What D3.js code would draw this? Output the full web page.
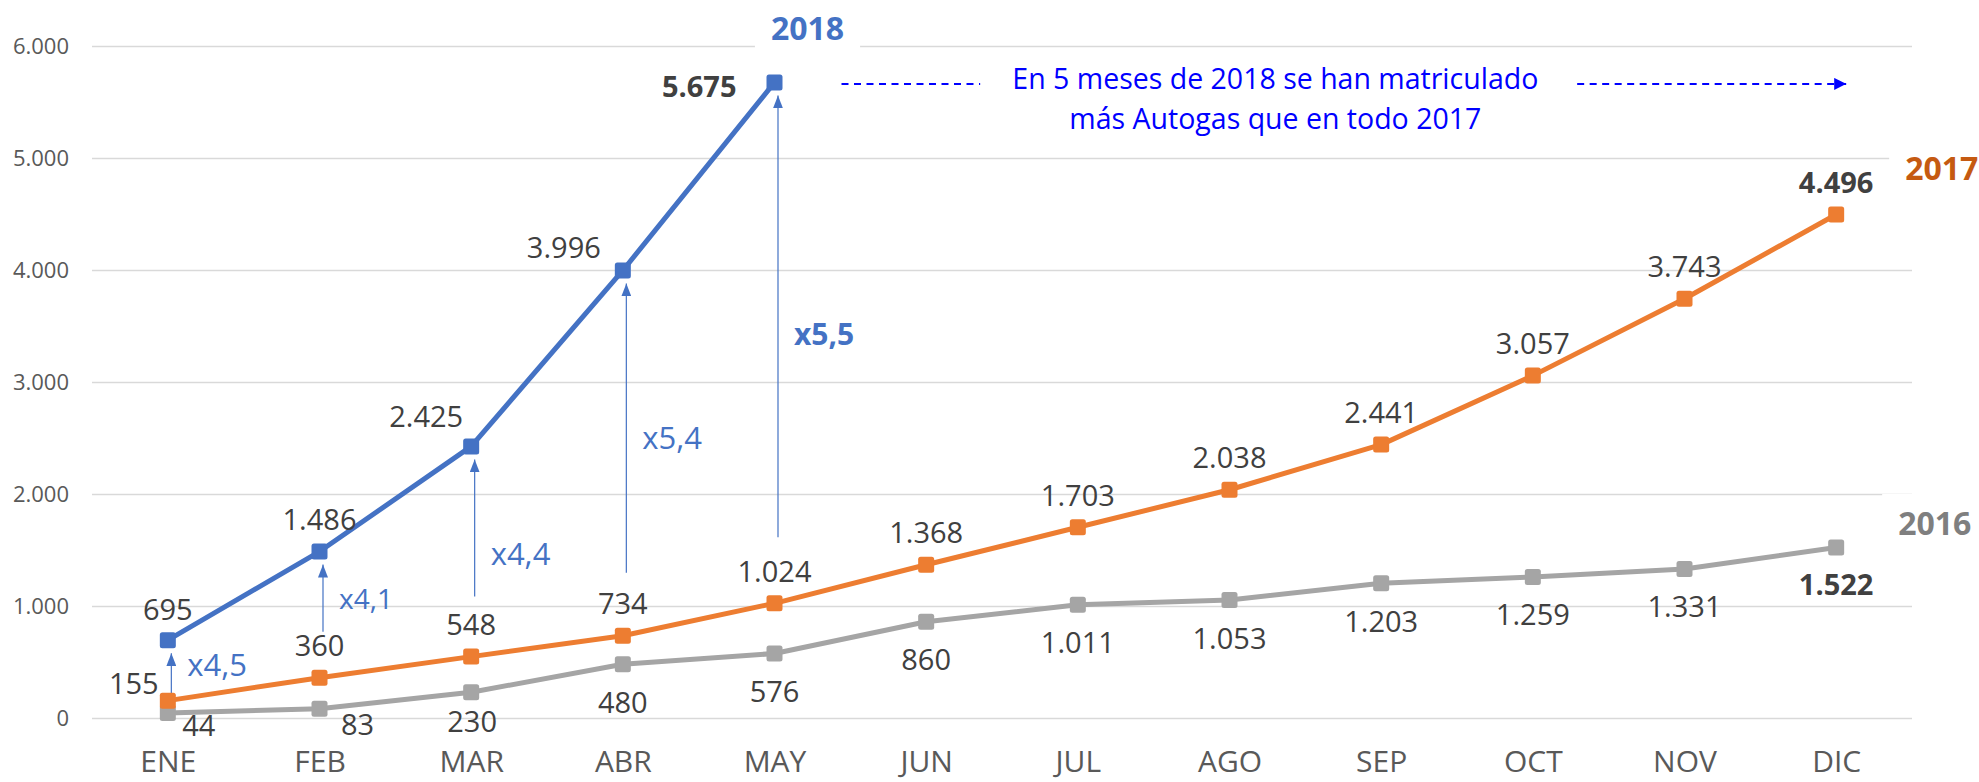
<!DOCTYPE html>
<html>
<head>
<meta charset="utf-8">
<script src="https://cdn.jsdelivr.net/npm/d3@7"></script>
<style>
  html, body { margin: 0; padding: 0; background: #ffffff; }
  svg { display: block; font-family: "Open Sans", "Noto Sans", sans-serif; }
</style>
</head>
<body>
<div id="chart"></div>
<script>
// ---------------- DATA ----------------
const months = ["ENE","FEB","MAR","ABR","MAY","JUN","JUL","AGO","SEP","OCT","NOV","DIC"];
const values2018 = [695, 1486, 2425, 3996, 5675];
const values2017 = [155, 360, 548, 734, 1024, 1368, 1703, 2038, 2441, 3057, 3743, 4496];
const values2016 = [44, 83, 230, 480, 576, 860, 1011, 1053, 1203, 1259, 1331, 1522];
const yTicks = [0, 1000, 2000, 3000, 4000, 5000, 6000];
const multiplierLabels = ["x4,5", "x4,1", "x4,4", "x5,4", "x5,5"];
const seriesNames = ["2018", "2017", "2016"];
const noteLines = ["En 5 meses de 2018 se han matriculado", "más Autogas que en todo 2017"];

// ---------------- STYLE / LAYOUT ----------------
const W = 1979, H = 782;
const colors = { "2018": "#4472C4", "2017": "#ED7D31", "2016": "#A5A5A5" };
const nameColors = { "2018": "#4472C4", "2017": "#C55A11", "2016": "#7F7F7F" };
const labelColor = "#404040";
const axisColor = "#595959";

// label placement (dx, dy, bold, anchor) per point
const place2018 = [
  {dx: 0, dy: -32}, {dx: 0, dy: -33}, {dx: -45, dy: -31}, {dx: -59, dy: -24},
  {dx: -38, dy: 3, bold: true, anchor: "end"}
];
const place2017 = values2017.map((v, i) => i === 0 ? {dx: -34, dy: -18}
  : (i === 11 ? {dx: 0, dy: -33, bold: true} : {dx: 0, dy: -33}));
const place2016 = values2016.map((v, i) => i === 0 ? {dx: 31, dy: 11}
  : (i === 1 ? {dx: 38, dy: 15} : (i === 2 ? {dx: 1, dy: 28}
  : (i === 11 ? {dx: 0, dy: 36, bold: true} : {dx: 0, dy: 37}))));
const arrowBottomGap = [0, 46, 60, 63, 66];
const arrowLabelShift = [-13, 0, 25, 9, 17];
const arrowLabelSize = [31, 28, 31, 31, 30];

const fmt = v => d3.format(",")(v).replace(/,/g, ".");

const svg = d3.select("#chart").append("svg").attr("width", W).attr("height", H);
const defs = svg.append("defs");
defs.append("marker").attr("id", "arrUp").attr("viewBox", "0 0 13 10")
  .attr("refX", 13).attr("refY", 5).attr("markerWidth", 13).attr("markerHeight", 10)
  .attr("markerUnits", "userSpaceOnUse").attr("orient", "auto")
  .append("path").attr("d", "M0,0 L13,5 L0,10 Z").attr("fill", colors["2018"]);
defs.append("marker").attr("id", "arrRight").attr("viewBox", "0 0 12 12")
  .attr("refX", 12).attr("refY", 6).attr("markerWidth", 12).attr("markerHeight", 12)
  .attr("markerUnits", "userSpaceOnUse").attr("orient", "auto")
  .append("path").attr("d", "M0,0 L12,6 L0,12 Z").attr("fill", "#0000FF");

const x = d3.scalePoint().domain(months).range([92, 1912]).padding(0.5);
const y = d3.scaleLinear().domain([0, 6000]).range([718, 46]);

// gridlines + y tick labels via axis
const yAxis = d3.axisLeft(y).tickValues(yTicks).tickSize(-(1912 - 92)).tickFormat(fmt).tickPadding(23);
const gy = svg.append("g").attr("transform", "translate(92,0)").call(yAxis);
gy.select(".domain").remove();
gy.selectAll(".tick line").attr("stroke", "#D9D9D9").attr("stroke-width", 1.3);
gy.selectAll(".tick text").attr("fill", axisColor).attr("font-size", 22)
  .attr("font-family", "'Open Sans', sans-serif");

// x axis labels
const xAxis = d3.axisBottom(x).tickSize(0).tickPadding(34);
const gx = svg.append("g").attr("transform", "translate(0,718)").call(xAxis);
gx.select(".domain").remove();
gx.selectAll(".tick text").attr("fill", axisColor).attr("font-size", 30)
  .attr("font-family", "'Open Sans', sans-serif").attr("dy", "0.35em").attr("y", 43.5);

// series-name labels with white boxes (they interrupt gridlines)
const boxG = svg.append("g");
const nameG = svg.append("g");
const nameSpecs = [
  {name: "2018", x: x("MAY") + 33, y: 27, anchor: "middle"},
  {name: "2017", x: x("DIC") + 69, y: 167, anchor: "start"},
  {name: "2016", x: x("DIC") + 62, y: 522, anchor: "start"}
];
nameSpecs.forEach(s => {
  const t = nameG.append("text").attr("x", s.x).attr("y", s.y)
    .attr("text-anchor", s.anchor).attr("dominant-baseline", "central")
    .attr("font-size", 32).attr("font-weight", 700).attr("fill", nameColors[s.name]).text(s.name);
  const bb = t.node().getBBox();
  boxG.append("rect").attr("x", bb.x - 16).attr("y", s.y - 28)
    .attr("width", bb.width + 32).attr("height", 56).attr("fill", "#ffffff");
});

// multiplier arrows
const arrowG = svg.append("g");
multiplierLabels.forEach((lab, i) => {
  const ax = x(months[i]) + 3.5;
  const y0 = y(values2017[i]) - arrowBottomGap[i];
  const y1 = y(values2018[i]) + 13;
  arrowG.append("line").attr("x1", ax).attr("x2", ax).attr("y1", y0).attr("y2", y1)
    .attr("stroke", colors["2018"]).attr("stroke-width", 1.2).attr("marker-end", "url(#arrUp)");
  arrowG.append("text").attr("x", ax + 16).attr("y", (y0 + y1) / 2 + arrowLabelShift[i])
    .attr("dominant-baseline", "central").attr("font-size", arrowLabelSize[i])
    .attr("font-weight", i === 4 ? 700 : 400).attr("fill", colors["2018"]).text(lab);
});

// lines & markers
const line = d3.line().x(d => x(d.m)).y(d => y(d.v));
const series = [
  {name: "2016", vals: values2016, place: place2016},
  {name: "2017", vals: values2017, place: place2017},
  {name: "2018", vals: values2018, place: place2018}
];
series.forEach(s => {
  const pts = s.vals.map((v, i) => ({m: months[i], v}));
  svg.append("path").datum(pts).attr("d", line).attr("fill", "none")
    .attr("stroke", colors[s.name]).attr("stroke-width", 5).attr("stroke-linejoin", "round");
  svg.append("g").selectAll("rect").data(pts).join("rect")
    .attr("x", d => x(d.m) - 8).attr("y", d => y(d.v) - 8)
    .attr("width", 16).attr("height", 16).attr("rx", 2.5).attr("fill", colors[s.name]);
});
series.forEach(s => {
  s.vals.forEach((v, i) => {
    const p = s.place[i];
    svg.append("text").attr("x", x(months[i]) + p.dx).attr("y", y(v) + p.dy)
      .attr("text-anchor", p.anchor || "middle").attr("dominant-baseline", "central")
      .attr("font-size", 29).attr("font-weight", p.bold ? 700 : 400)
      .attr("fill", labelColor).text(fmt(v));
  });
});

// note with dashed arrows
const noteX = (x("AGO") + x("SEP")) / 2 - 30;
const noteY = y(5675) + 1.5;
svg.append("line").attr("x1", x("MAY") + 67).attr("x2", x("JUN") + 54)
  .attr("y1", noteY).attr("y2", noteY).attr("stroke", "#0000FF").attr("stroke-width", 2)
  .attr("stroke-dasharray", "7,5.5");
svg.append("line").attr("x1", x("SEP") + 196).attr("x2", x("DIC") + 10)
  .attr("y1", noteY).attr("y2", noteY).attr("stroke", "#0000FF").attr("stroke-width", 2)
  .attr("stroke-dasharray", "7,5.5").attr("marker-end", "url(#arrRight)");
noteLines.forEach((t, i) => {
  svg.append("text").attr("x", noteX).attr("y", 78 + i * 40)
    .attr("text-anchor", "middle").attr("dominant-baseline", "central")
    .attr("font-size", 28.5).attr("fill", "#0000FF").text(t);
});
</script>
</body>
</html>
